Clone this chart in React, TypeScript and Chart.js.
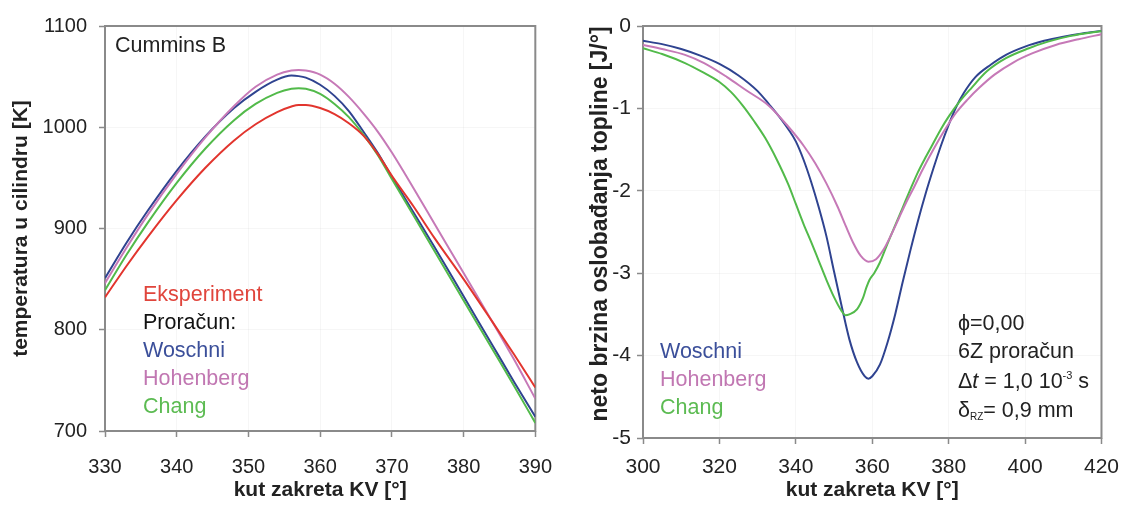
import React, { useEffect, useRef } from "react";
import { Chart, registerables } from "chart.js";

Chart.register(...registerables);

const FONT = '"Liberation Sans", Arial, Helvetica, sans-serif';
Chart.defaults.font.family = FONT;

// ---------- Left chart: temperature in cylinder ----------
const tempAngles = [330, 333, 336, 340, 344, 348, 351, 354, 356, 357, 358, 360, 362, 364, 366, 368, 370, 373, 376, 380, 384, 387, 390];
const tempEksperiment = [832, 863, 892, 928, 960, 987, 1003, 1015, 1020.5, 1022, 1022, 1019, 1013, 1004, 992, 974, 952, 922, 890, 850, 808, 776, 743];
const tempWoschni = [851, 886, 918, 957, 991, 1019, 1035, 1047, 1051, 1050.5, 1049, 1042, 1031, 1016, 996, 975, 951, 916, 881, 833, 785, 749, 714];
const tempHohenberg = [846, 881, 914, 954, 990, 1021, 1040, 1052, 1056, 1056.5, 1056, 1052, 1043, 1030, 1014, 996, 975, 940, 904, 856, 808, 771, 732];
const tempChang = [839, 874, 906, 945, 979, 1007, 1023, 1034, 1038, 1038.5, 1038, 1033, 1023, 1010, 993, 973, 949, 913, 877, 829, 781, 745, 708];

const leftXTicks = [330, 340, 350, 360, 370, 380, 390];
const leftYTicks = [700, 800, 900, 1000, 1100];

// ---------- Right chart: net heat release rate ----------
const woschniAngles = [300, 305, 310, 315, 320, 325, 330, 333, 336, 338, 340, 342, 344, 346, 348, 350, 352, 354, 356, 358, 359, 360, 362, 364, 366, 368, 370, 372, 374, 376, 378, 380, 382, 384, 387, 391, 395, 400, 405, 410, 415, 420];
const woschniRate = [-0.18, -0.22, -0.28, -0.36, -0.46, -0.60, -0.79, -0.95, -1.12, -1.25, -1.40, -1.62, -1.89, -2.20, -2.55, -2.98, -3.40, -3.80, -4.08, -4.25, -4.28, -4.25, -4.11, -3.84, -3.50, -3.10, -2.72, -2.36, -2.03, -1.73, -1.45, -1.20, -0.98, -0.81, -0.62, -0.47, -0.35, -0.25, -0.18, -0.13, -0.09, -0.06];

const hohenbergAngles = [300, 305, 311, 316, 322, 327, 333, 338, 342, 345, 348, 351, 353, 355, 357, 359, 361, 363, 365, 367, 369, 371, 373, 376, 379, 382, 385, 388, 392, 397, 402, 408, 414, 420];
const hohenbergRate = [-0.23, -0.28, -0.35, -0.45, -0.62, -0.78, -0.97, -1.22, -1.45, -1.66, -1.91, -2.20, -2.42, -2.63, -2.79, -2.86, -2.83, -2.71, -2.53, -2.33, -2.13, -1.95, -1.76, -1.50, -1.26, -1.05, -0.89, -0.75, -0.59, -0.44, -0.33, -0.23, -0.16, -0.10];

const changAngles = [300, 305, 311, 316, 320, 323, 326, 329, 332, 335, 338, 340, 342, 344, 346, 348, 350, 352, 353, 354, 356, 357.5, 358.5, 359.3, 360.5, 362, 364, 366, 368, 370, 372, 374, 376, 378, 380, 383, 386, 390, 395, 401, 406, 412, 420];
const changRate = [-0.27, -0.34, -0.45, -0.57, -0.68, -0.80, -0.96, -1.15, -1.36, -1.62, -1.92, -2.16, -2.40, -2.62, -2.85, -3.08, -3.29, -3.46, -3.51, -3.50, -3.44, -3.31, -3.17, -3.08, -3.00, -2.87, -2.64, -2.42, -2.20, -1.98, -1.77, -1.59, -1.42, -1.25, -1.10, -0.91, -0.75, -0.55, -0.39, -0.27, -0.19, -0.12, -0.06];

const rightXTicks = [300, 320, 340, 360, 380, 400, 420];
const rightYTicks = [-5, -4, -3, -2, -1, 0];

// ---------- Colors ----------
const RED = "#e2352e";
const BLUE = "#2f4390";
const PINK = "#c679b7";
const GREEN = "#52ba4a";
const RED_T = "#e0453c";
const BLUE_T = "#3b4f9a";
const PINK_T = "#c177b2";
const GREEN_T = "#5cbb52";
const FRAME = "#8a8a8a";
const TEXT = "#222222";

type Seg = { t: string; style?: string; size?: number; dy?: number };
type TextLine = { x: number; y: number; color: string; segs: Seg[] };

function drawTextLines(ctx: CanvasRenderingContext2D, lines: TextLine[], base: number) {
  ctx.save();
  ctx.textBaseline = "alphabetic";
  ctx.textAlign = "left";
  for (const ln of lines) {
    let x = ln.x;
    for (const s of ln.segs) {
      const size = s.size ?? base;
      ctx.font = `${s.style ?? ""} ${size}px ${FONT}`;
      ctx.fillStyle = ln.color;
      ctx.fillText(s.t, x, ln.y + (s.dy ?? 0));
      x += ctx.measureText(s.t).width;
    }
  }
  ctx.restore();
}

const framePlugin = {
  id: "frame",
  beforeDatasetsDraw(chart: any) {
    const { ctx, chartArea: a } = chart;
    ctx.save();
    ctx.strokeStyle = FRAME;
    ctx.lineWidth = 2;
    ctx.strokeRect(a.left, a.top, a.right - a.left, a.bottom - a.top);
    ctx.restore();
  },
};

function makeTextPlugin(lines: TextLine[], base: number, vTitle?: { text: string; x: number; y: number; size: number }) {
  return {
    id: "texts",
    afterDraw(chart: any) {
      const ctx: CanvasRenderingContext2D = chart.ctx;
      drawTextLines(ctx, lines, base);
      if (vTitle) {
        ctx.save();
        ctx.translate(vTitle.x, vTitle.y);
        ctx.rotate(-Math.PI / 2);
        ctx.font = `bold ${vTitle.size}px ${FONT}`;
        ctx.fillStyle = TEXT;
        ctx.textAlign = "center";
        ctx.textBaseline = "middle";
        ctx.fillText(vTitle.text, 0, 0);
        ctx.restore();
      }
    },
  };
}

function series(label: string, xs: number[], ys: number[], color: string) {
  return {
    label,
    data: xs.map((x, i) => ({ x, y: ys[i] })),
    borderColor: color,
    backgroundColor: color,
    borderWidth: 2,
    pointRadius: 0,
    cubicInterpolationMode: "monotone" as const,
    fill: false,
  };
}

function axis(opts: {
  min: number;
  max: number;
  ticks: number[];
  fit: (s: any) => void;
  title: string;
  showTitle: boolean;
  titleSize: number;
  titlePadding: any;
  tickSize: number;
  tickPadding: number;
}) {
  return {
    type: "linear" as const,
    min: opts.min,
    max: opts.max,
    afterBuildTicks: (scale: any) => {
      scale.ticks = opts.ticks.map((v) => ({ value: v }));
    },
    afterFit: opts.fit,
    ticks: {
      font: { size: opts.tickSize },
      color: TEXT,
      padding: opts.tickPadding,
      maxRotation: 0,
      autoSkip: false,
      callback: (v: any) => String(v),
    },
    grid: {
      color: "rgba(0,0,0,0.035)",
      tickColor: FRAME,
      tickLength: 6,
      lineWidth: 1,
      tickWidth: 1.5,
    },
    border: { display: false },
    title: {
      display: opts.showTitle,
      text: opts.title,
      color: TEXT,
      font: { size: opts.titleSize, weight: "bold" as const },
      padding: opts.titlePadding,
    },
  };
}

const leftTexts: TextLine[] = [
  { x: 115, y: 52, color: TEXT, segs: [{ t: "Cummins B" }] },
  { x: 143, y: 300.5, color: RED_T, segs: [{ t: "Eksperiment" }] },
  { x: 143, y: 328.5, color: "#111111", segs: [{ t: "Proračun:" }] },
  { x: 143, y: 356.5, color: BLUE_T, segs: [{ t: "Woschni" }] },
  { x: 143, y: 384.5, color: PINK_T, segs: [{ t: "Hohenberg" }] },
  { x: 143, y: 412.5, color: GREEN_T, segs: [{ t: "Chang" }] },
];

const rightTexts: TextLine[] = [
  { x: 90, y: 358, color: BLUE_T, segs: [{ t: "Woschni" }] },
  { x: 90, y: 386, color: PINK_T, segs: [{ t: "Hohenberg" }] },
  { x: 90, y: 414, color: GREEN_T, segs: [{ t: "Chang" }] },
  { x: 388, y: 329.5, color: TEXT, segs: [{ t: "ϕ=0,00" }] },
  { x: 388, y: 357.5, color: TEXT, segs: [{ t: "6Z proračun" }] },
  {
    x: 388,
    y: 387.5,
    color: TEXT,
    segs: [
      { t: "Δ" },
      { t: "t", style: "italic" },
      { t: " = 1,0 10" },
      { t: "-3", size: 11, dy: -9 },
      { t: " s" },
    ],
  },
  {
    x: 388,
    y: 416.5,
    color: TEXT,
    segs: [{ t: "δ" }, { t: "RZ", size: 10, dy: 3 }, { t: "= 0,9 mm" }],
  },
];

function leftConfig(): any {
  return {
    type: "line",
    data: {
      datasets: [
        series("Eksperiment", tempAngles, tempEksperiment, RED),
        series("Hohenberg", tempAngles, tempHohenberg, PINK),
        series("Chang", tempAngles, tempChang, GREEN),
        series("Woschni", tempAngles, tempWoschni, BLUE),
      ],
    },
    options: {
      responsive: false,
      animation: false,
      layout: { padding: { top: 26, right: 32, left: 0, bottom: 0 } },
      plugins: { legend: { display: false }, tooltip: { enabled: false } },
      scales: {
        x: axis({
          min: 330,
          max: 390,
          ticks: leftXTicks,
          fit: (s) => {
            s.height = 81;
          },
          title: "kut zakreta KV [°]",
          showTitle: true,
          titleSize: 21,
          titlePadding: { top: 0, bottom: 9 },
          tickSize: 20,
          tickPadding: 18,
        }),
        y: axis({
          min: 700,
          max: 1100,
          ticks: leftYTicks,
          fit: (s) => {
            s.width = 105;
          },
          title: "temperatura u cilindru [K]",
          showTitle: true,
          titleSize: 21,
          titlePadding: { top: 9, bottom: 0 },
          tickSize: 20,
          tickPadding: 12,
        }),
      },
    },
    plugins: [framePlugin, makeTextPlugin(leftTexts, 21.5)],
  };
}

function rightConfig(): any {
  return {
    type: "line",
    data: {
      datasets: [
        series("Hohenberg", hohenbergAngles, hohenbergRate, PINK),
        series("Chang", changAngles, changRate, GREEN),
        series("Woschni", woschniAngles, woschniRate, BLUE),
      ],
    },
    options: {
      responsive: false,
      animation: false,
      layout: { padding: { top: 26, right: 21, left: 0, bottom: 0 } },
      plugins: { legend: { display: false }, tooltip: { enabled: false } },
      scales: {
        x: axis({
          min: 300,
          max: 420,
          ticks: rightXTicks,
          fit: (s) => {
            s.height = 74;
          },
          title: "kut zakreta KV [°]",
          showTitle: true,
          titleSize: 21,
          titlePadding: { top: 0, bottom: 9 },
          tickSize: 21,
          tickPadding: 11,
        }),
        y: axis({
          min: -5,
          max: 0,
          ticks: rightYTicks,
          fit: (s) => {
            s.width = 73;
          },
          title: "neto brzina oslobađanja topline [J/°]",
          showTitle: false,
          titleSize: 23,
          titlePadding: { top: 18, bottom: 0 },
          tickSize: 21,
          tickPadding: 6,
        }),
      },
    },
    plugins: [
      framePlugin,
      makeTextPlugin(rightTexts, 21.5, {
        text: "neto brzina oslobađanja topline [J/°]",
        x: 31,
        y: 224,
        size: 23,
      }),
    ],
  };
}

function ChartCanvas({ make, left, width }: { make: () => any; left: number; width: number }) {
  const ref = useRef<HTMLCanvasElement | null>(null);
  useEffect(() => {
    if (!ref.current) return;
    const chart = new Chart(ref.current, make());
    return () => chart.destroy();
  }, []);
  return (
    <canvas
      ref={ref}
      width={width}
      height={512}
      style={{ position: "absolute", left, top: 0, width, height: 512, display: "block" }}
    />
  );
}

export default function App() {
  return (
    <div
      style={{
        position: "absolute",
        left: 0,
        top: 0,
        width: 1130,
        height: 512,
        background: "#ffffff",
        overflow: "hidden",
      }}
    >
      <ChartCanvas make={leftConfig} left={0} width={570} />
      <ChartCanvas make={rightConfig} left={570} width={560} />
    </div>
  );
}
